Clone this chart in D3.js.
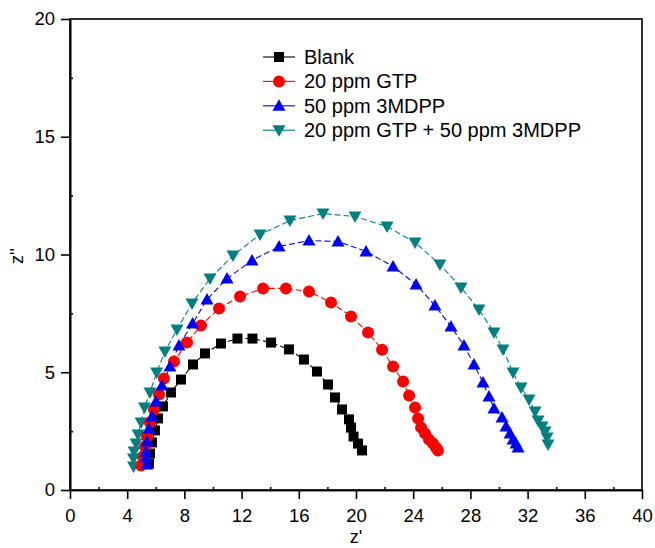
<!DOCTYPE html>
<html>
<head>
<meta charset="utf-8">
<script src="https://cdn.jsdelivr.net/npm/d3@7"></script>
<style>
  body { margin: 0; background: #fff; }
  svg { display: block; font-family: "Liberation Sans", Arial, Helvetica, sans-serif; }
</style>
</head>
<body>
<svg id="chart" width="655" height="548"></svg>
<script>
// Nyquist data: z' (x) and z'' (y) per series
const blankX = [5.52,5.59,5.73,5.94,6.15,6.50,7.06,7.76,8.60,9.44,10.56,11.71,12.76,14.06,15.31,16.36,17.27,18.04,18.53,19.02,19.51,19.65,19.83,20.14,20.42];
const blankY = [1.12,1.55,2.02,2.53,3.04,3.55,4.14,4.69,5.33,5.80,6.22,6.43,6.43,6.26,5.97,5.54,5.03,4.48,3.93,3.42,3.00,2.65,2.27,1.97,1.68];

const gtpX = [4.97,5.10,5.24,5.38,5.59,5.87,6.22,6.57,7.27,8.18,9.16,10.42,11.89,13.50,15.10,16.71,18.25,19.65,20.84,21.82,22.59,23.29,23.71,24.13,24.34,24.55,24.83,25.10,25.38,25.59,25.73];
const gtpY = [1.04,1.42,1.85,2.27,2.87,3.42,4.06,4.73,5.46,6.26,6.99,7.71,8.22,8.56,8.56,8.43,7.96,7.37,6.69,5.96,5.24,4.61,4.01,3.50,3.04,2.65,2.40,2.14,1.97,1.80,1.68];

const mdppX = [5.36,5.31,5.31,5.38,5.52,5.73,6.01,6.43,6.99,7.62,8.57,9.58,10.98,12.73,14.62,16.71,18.74,20.70,22.59,24.20,25.52,26.64,27.55,28.25,28.88,29.30,29.65,30.21,30.49,30.77,30.98,31.19,31.33];
const mdppY = [1.08,1.38,1.63,2.06,2.61,3.12,3.76,4.44,5.24,6.14,7.07,8.09,8.98,9.75,10.34,10.59,10.55,10.13,9.49,8.73,7.83,6.94,6.14,5.33,4.56,3.97,3.46,3.08,2.70,2.40,2.14,1.97,1.80];

const mixX = [4.44,4.44,4.48,4.62,4.76,4.97,5.21,5.59,6.06,6.64,7.48,8.53,9.79,11.40,13.29,15.38,17.69,19.93,22.17,24.13,25.87,27.34,28.60,29.65,30.28,30.98,31.54,32.10,32.52,32.73,33.01,33.22,33.36,33.43];
const mixY = [1.00,1.34,1.63,1.97,2.36,2.87,3.50,4.14,4.99,5.88,6.82,7.92,8.98,9.96,10.85,11.44,11.74,11.61,11.19,10.51,9.58,8.60,7.66,6.69,5.97,4.99,4.35,3.84,3.33,2.95,2.70,2.48,2.23,1.93];

const seriesNames = ["Blank", "20 ppm GTP", "50 ppm 3MDPP", "20 ppm GTP + 50 ppm 3MDPP"];
const xTicks = [0,4,8,12,16,20,24,28,32,36,40];
const xMinor = [2,6,10,14,18,22,26,30,34,38];
const yTicks = [0,5,10,15,20];
const yMinor = [2.5,7.5,12.5,17.5];

const svg = d3.select("#chart");

const x = d3.scaleLinear().domain([0,40]).range([70,642]);
const y = d3.scaleLinear().domain([0,20]).range([490,19]);

const zip = (xs,ys) => xs.map((v,i)=>({x:v, y:ys[i]}));

const series = [
  {name: seriesNames[0], data: zip(blankX,blankY), color: "#000000", shape: "square"},
  {name: seriesNames[1], data: zip(gtpX,gtpY), color: "#ff0000", shape: "circle"},
  {name: seriesNames[2], data: zip(mdppX,mdppY), color: "#0000ff", shape: "up"},
  {name: seriesNames[3], data: zip(mixX,mixY), color: "#008080", shape: "down"}
];

function markerPath(shape){
  if(shape==="square") return "M-5,-5H5V5H-5Z";
  if(shape==="circle") return d3.symbol(d3.symbolCircle, 113)();
  if(shape==="up") return "M0,-6.5L6.5,5L-6.5,5Z";
  return "M0,6.5L6.5,-5L-6.5,-5Z";
}

// frame
svg.append("rect")
  .attr("x",x(0)).attr("y",y(20))
  .attr("width",x(40)-x(0)).attr("height",y(0)-y(20))
  .attr("fill","none").attr("stroke","#000").attr("stroke-width",1.6);

// axes
svg.append("g").attr("transform",`translate(0,${y(0)})`)
  .call(d3.axisBottom(x).tickValues(xTicks).tickSize(9).tickSizeOuter(0).tickPadding(10));
svg.append("g").attr("transform",`translate(0,${y(0)})`)
  .call(d3.axisBottom(x).tickValues(xMinor).tickSize(-3).tickSizeOuter(0).tickFormat(""));
svg.append("g").attr("transform",`translate(${x(0)},0)`)
  .call(d3.axisLeft(y).tickValues(yTicks).tickSize(9).tickSizeOuter(0).tickPadding(6));
svg.append("g").attr("transform",`translate(${x(0)},0)`)
  .call(d3.axisLeft(y).tickValues(yMinor).tickSize(-3).tickSizeOuter(0).tickFormat(""));

svg.selectAll(".domain").attr("stroke","#000").attr("stroke-width",1.6);
svg.selectAll(".tick line").attr("stroke","#000").attr("stroke-width",1.6);
svg.selectAll(".tick text")
  .attr("fill","#000")
  .style("font-size","18.5px")
  .style("font-family","'Liberation Sans', Arial, Helvetica, sans-serif");

// axis titles
svg.append("text")
  .attr("x",356).attr("y",543)
  .attr("text-anchor","middle")
  .style("font-size","18px")
  .text("z'");
svg.append("text")
  .attr("transform","translate(23,256) rotate(-90)")
  .attr("text-anchor","middle")
  .style("font-size","18px")
  .text("z''");

// curves
const line = d3.line().x(d=>x(d.x)).y(d=>y(d.y));

const drawOrder = [series[3], series[0], series[1], series[2]];

drawOrder.forEach(s => {
  svg.append("path")
    .datum(s.data)
    .attr("d",line)
    .attr("fill","none")
    .attr("stroke",s.color)
    .attr("stroke-width",1.1)
    .attr("stroke-dasharray","6,3");
});

drawOrder.forEach(s => {
  svg.append("g")
    .selectAll("path")
    .data(s.data)
    .join("path")
    .attr("transform",d=>`translate(${x(d.x)},${y(d.y)})`)
    .attr("d",markerPath(s.shape))
    .attr("fill",s.color);
});

// legend
const legend = svg.append("g").attr("transform","translate(263,57)");
const rowGap = 24.4;

const item = legend.selectAll("g")
  .data(series)
  .join("g")
  .attr("transform",(d,i)=>`translate(0,${i*rowGap})`);

item.append("line")
  .attr("x1",0).attr("x2",32).attr("y1",0).attr("y2",0)
  .attr("stroke",d=>d.color).attr("stroke-width",1.1);

item.append("path")
  .attr("transform","translate(16,0)")
  .attr("d",d=>markerPath(d.shape))
  .attr("fill",d=>d.color);

item.append("text")
  .attr("x",41).attr("y",0).attr("dy","0.35em")
  .style("font-size","20px")
  .text(d=>d.name);
</script>
</body>
</html>
